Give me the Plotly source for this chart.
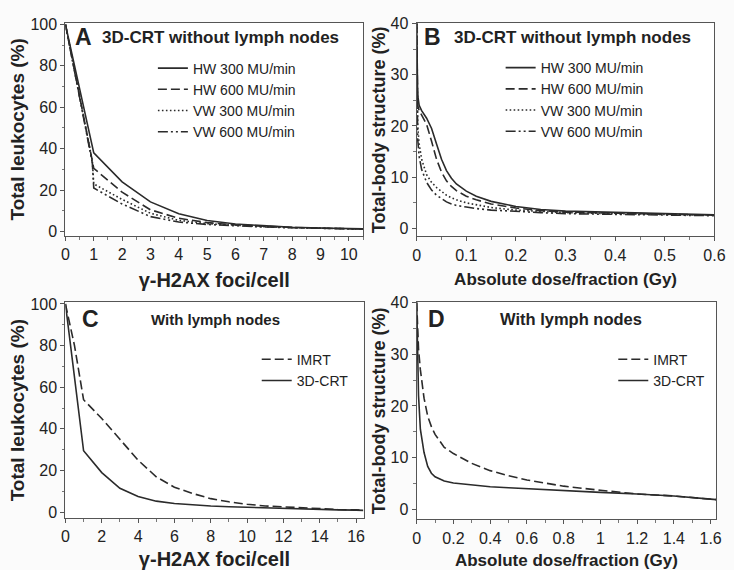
import plotly.graph_objects as go

# ---------------- data ----------------
# Panel A: gamma-H2AX foci/cell vs total leukocytes (%)
a_x = [0, 1, 2, 3, 4, 5, 6, 7, 8, 9, 10, 10.5]
a_hw300 = [100, 38, 24, 14.3, 8.6, 5.3, 3.6, 2.7, 2.1, 1.7, 1.4, 1.3]
a_hw600 = [100, 30.5, 19, 10.5, 6.4, 4.3, 3.2, 2.5, 2.0, 1.6, 1.3, 1.2]
a_vw_x = [0, 0.95, 1, 2, 3, 4, 5, 6, 7, 8, 9, 10, 10.5]
a_vw300 = [100, 34, 23, 15.5, 8.8, 5.4, 3.8, 2.9, 2.3, 1.9, 1.6, 1.3, 1.2]
a_vw600 = [100, 33, 21, 13.3, 7.2, 4.6, 3.4, 2.7, 2.2, 1.8, 1.5, 1.3, 1.2]

# Panel B: absolute dose/fraction vs total-body structure (%)
b_x = [0, 0.002, 0.005, 0.01, 0.02, 0.03, 0.04, 0.05, 0.06, 0.07, 0.08, 0.1,
       0.12, 0.15, 0.2, 0.25, 0.3, 0.4, 0.5, 0.6]
b_hw300 = [40, 26, 24, 23, 21.5, 19.5, 16.5, 13.5, 11.3, 9.8, 8.7, 7.3,
           6.3, 5.3, 4.3, 3.7, 3.4, 3.1, 2.9, 2.7]
b_hw600 = [40, 24, 23, 22, 20.3, 17, 13.5, 11, 9.3, 8.2, 7.4, 6.3,
           5.6, 4.8, 4.0, 3.5, 3.2, 3.0, 2.8, 2.6]
b_vw300 = [40, 20, 16.5, 13.5, 10.5, 9, 8, 7.2, 6.5, 6, 5.6, 5.0,
           4.6, 4.1, 3.6, 3.3, 3.1, 2.9, 2.8, 2.6]
b_vw600 = [40, 17.5, 14, 11.5, 9, 7.5, 6.5, 5.8, 5.2, 4.8, 4.5, 4.2,
           3.9, 3.6, 3.3, 3.1, 2.9, 2.8, 2.7, 2.5]

# Panel C: with lymph nodes, foci/cell
c_x = [0, 0.5, 1, 2, 3, 4, 5, 6, 7, 8, 9, 10, 11, 12, 13, 14, 15, 16, 16.4]
c_imrt = [100, 80, 54, 45, 35, 25, 17, 12, 9, 6.5, 5, 3.8, 3, 2.5, 2, 1.6, 1.3, 1.1, 1.0]
c_3dcrt = [100, 65, 29.5, 19, 11.5, 7.5, 5.3, 4.2, 3.5, 3.0, 2.6, 2.3, 2.0, 1.8, 1.5, 1.3, 1.1, 1.0, 0.9]

# Panel D: with lymph nodes, dose/fraction
d_x = [0, 0.005, 0.01, 0.02, 0.04, 0.06, 0.08, 0.1, 0.15, 0.2, 0.3, 0.4, 0.5,
       0.6, 0.8, 1.0, 1.2, 1.4, 1.6, 1.63]
d_3dcrt = [40, 30, 22, 15.5, 11, 8.3, 7, 6.3, 5.5, 5.1, 4.7, 4.4, 4.2,
           4.0, 3.6, 3.3, 3.0, 2.6, 2.0, 1.9]
d_imrt = [40, 33, 31, 27, 21.5, 18, 16, 14.5, 12, 10.8, 8.9, 7.5, 6.5,
          5.7, 4.5, 3.7, 3.0, 2.6, 2.0, 1.9]

# ---------------- figure ----------------
W, H = 734, 570
def px(x):
    return x / W
def py(y):
    return 1 - y / H

LC = "#2b2b2b"
LW = 1.6
FONT = "Liberation Sans, Arial, sans-serif"
DASH = "9px,4px"
DOT = "1.6px,2.4px"
DASHDOT = "10px,3px,2px,3px,2px,3px"

fig = go.Figure()

def add(x, y, name, dash, xa, ya, leg):
    fig.add_trace(go.Scatter(
        x=x, y=y, name=name, mode="lines",
        line=dict(color=LC, width=LW, dash=dash),
        xaxis=xa, yaxis=ya, legend=leg))

add(a_x, a_hw300, "HW 300 MU/min", "solid", "x", "y", "legend")
add(a_x, a_hw600, "HW 600 MU/min", DASH, "x", "y", "legend")
add(a_vw_x, a_vw300, "VW 300 MU/min", DOT, "x", "y", "legend")
add(a_vw_x, a_vw600, "VW 600 MU/min", DASHDOT, "x", "y", "legend")

add(b_x, b_hw300, "HW 300 MU/min", "solid", "x2", "y2", "legend2")
add(b_x, b_hw600, "HW 600 MU/min", DASH, "x2", "y2", "legend2")
add(b_x, b_vw300, "VW 300 MU/min", DOT, "x2", "y2", "legend2")
add(b_x, b_vw600, "VW 600 MU/min", DASHDOT, "x2", "y2", "legend2")

add(c_x, c_imrt, "IMRT", DASH, "x3", "y3", "legend3")
add(c_x, c_3dcrt, "3D-CRT", "solid", "x3", "y3", "legend3")

add(d_x, d_imrt, "IMRT", DASH, "x4", "y4", "legend4")
add(d_x, d_3dcrt, "3D-CRT", "solid", "x4", "y4", "legend4")

tickfont = dict(family=FONT, size=16, color="#222")

def xax(domain, rng, dtick, minor, title, anchor, tsize):
    return dict(domain=domain, range=rng, anchor=anchor, tickmode="linear", tick0=0,
                dtick=dtick, ticks="outside", ticklen=4, tickwidth=1, tickcolor="#555",
                minor=dict(dtick=minor, tick0=0, ticks="outside", ticklen=2.5, tickcolor="#777"),
                showline=True, linecolor="#555", linewidth=1.2, mirror=True,
                showgrid=False, zeroline=False, tickfont=tickfont,
                title=dict(text="<b>%s</b>" % title,
                           font=dict(family=FONT, size=tsize, color="#222"), standoff=10))

def yax(domain, rng, dtick, minor, title, anchor, tsize):
    return dict(domain=domain, range=rng, anchor=anchor, tickmode="linear", tick0=0,
                dtick=dtick, ticks="outside", ticklen=4, tickwidth=1, tickcolor="#555",
                minor=dict(dtick=minor, tick0=0, ticks="outside", ticklen=2.5, tickcolor="#777"),
                showline=True, linecolor="#555", linewidth=1.2, mirror=True,
                showgrid=False, zeroline=False, tickfont=tickfont,
                title=dict(text="<b>%s</b>" % title,
                           font=dict(family=FONT, size=tsize, color="#222"), standoff=0))

fig.update_layout(
    width=W, height=H,
    margin=dict(l=0, r=0, t=0, b=0),
    paper_bgcolor="#fbfbfb", plot_bgcolor="white",
    font=dict(family=FONT, color="#222"),
    xaxis=xax([px(62.7), px(366.5)], [0, 10.5], 1, 0.5, "γ-H2AX foci/cell", "y", 20),
    yaxis=yax([py(233), py(15)], [-2.2, 100.8], 20, 10, "Total leukocytes (%)", "x", 19),
    xaxis2=xax([px(421.3), px(725.3)], [0, 0.6], 0.1, 0.05, "Absolute dose/fraction (Gy)", "y2", 17),
    yaxis2=yax([py(233.3), py(15.7)], [-1.53, 40], 10, 5, "Total-body structure (%)", "x2", 18),
    xaxis3=xax([px(62.7), px(367)], [0, 16.41], 2, 1, "γ-H2AX foci/cell", "y3", 20),
    yaxis3=yax([py(521), py(300.7)], [-2.8, 100.75], 20, 10, "Total leukocytes (%)", "x3", 19),
    xaxis4=xax([px(421.3), px(727)], [0, 1.63], 0.2, 0.1, "Absolute dose/fraction (Gy)", "y4", 17),
    yaxis4=yax([py(522.3), py(300.7)], [-1.9, 40], 10, 5, "Total-body structure (%)", "x4", 18),
    showlegend=True,
)

legfont = dict(family=FONT, size=14, color="#222")
def leg(x, y):
    return dict(x=px(x), y=py(y), xanchor="left", yanchor="middle", font=legfont,
                bgcolor="rgba(0,0,0,0)", borderwidth=0, tracegroupgap=0)

fig.update_layout(
    legend=leg(152, 94),
    legend2=leg(507, 93.5),
    legend3=leg(258, 370),
    legend4=leg(622, 370),
)

letters = [("A", 81, 30), ("B", 437, 30), ("C", 88, 318), ("D", 442, 318)]
for t, x, y in letters:
    fig.add_annotation(text="<b>%s</b>" % t, x=px(x), y=py(y), xref="paper", yref="paper",
                       showarrow=False, font=dict(family=FONT, size=23, color="#222"),
                       xanchor="center", yanchor="middle")

titles = [("3D-CRT without lymph nodes", 98, 30, 17), ("3D-CRT without lymph nodes", 457, 30, 17),
          ("With lymph nodes", 148, 318, 15), ("With lymph nodes", 504, 318, 16.5)]
for t, x, y, s in titles:
    fig.add_annotation(text="<b>%s</b>" % t, x=px(x), y=py(y), xref="paper", yref="paper",
                       showarrow=False, font=dict(family=FONT, size=s, color="#222"),
                       xanchor="left", yanchor="middle")

fig.write_html("out.html")
